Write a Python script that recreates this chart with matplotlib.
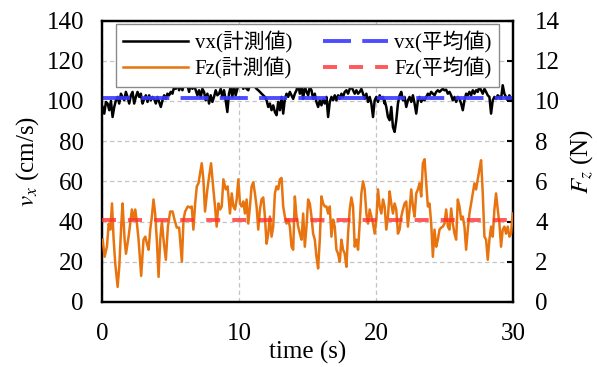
import numpy as np
import matplotlib
matplotlib.use("Agg")
import matplotlib.pyplot as plt
from matplotlib.font_manager import FontProperties

plt.rcParams['font.family'] = ['Liberation Serif', 'Noto Sans CJK JP', 'DejaVu Sans']
plt.rcParams['mathtext.fontset'] = 'stix'

# ---------------- data ----------------
DT = 0.1214  # sample spacing (s)

vx_seg1 = [97, 93.7, 99.5, 98.7, 95.4, 100, 92, 97, 100.3, 102, 98.7, 103.6, 102, 100.3, 104.5,
           102, 98.7, 102.8, 104.5, 98.7, 102, 104.5, 102, 103.6, 98.7, 101, 102.8, 99.5, 102.8,
           100.3, 102, 101, 98.7, 102, 99.5, 97, 100.3, 102.8, 101, 103.6, 102.8, 104.5, 103.6,
           107, 106, 108.6, 105.3, 107.8, 105.3, 108.6, 110.3, 107.8, 104.5, 108.6, 106, 107.8,
           105.3, 102.8, 105.3, 102, 106, 104.5, 100.3, 103.6, 98.7, 102.8, 99.5, 102, 105.3,
           102.8, 103.6, 106, 102, 105.3, 100.3, 94.5, 103.6, 107, 102, 107.8, 102.8, 106, 108.6]
vx_seg2 = [107.8, 108.6, 106, 107.8, 106, 105.3, 107.8, 108.3, 107.8, 107, 106, 105.3, 104.5,
           103.6, 102.8, 102, 100.3, 97, 98.7, 95.4, 97.8, 94.5, 92.9, 99.5, 95.4, 102, 93.7, 101,
           103.6, 102, 104.5, 102.8, 101, 103.6, 105.3, 108.6, 103.6, 107, 101, 107.3, 104.5,
           102.8, 107, 105.3, 101, 103.6, 99.5, 97, 100.3, 97.8, 101, 98.7, 102, 92, 99.5, 102,
           100.3, 102.8, 100.3, 102.8, 101, 103.6, 102, 104.5, 105.3, 103.6, 106, 107, 105.3,
           103.6, 105.3, 103.6, 104.5, 106, 103.6, 101, 103.6, 99.5, 102, 98.7, 92, 100.3, 102,
           99.5, 102.8, 101, 102, 98.7]
vx_seg3 = [100.3, 97, 92, 90.4, 97, 87, 84.6, 90.4, 98.7, 102.8, 104.5, 100.3, 102, 97, 100.3,
           102, 99.5, 102.8, 98.7, 93.7, 100.3, 102, 99.5, 101, 100.3, 102, 103.6, 102.8, 104.5,
           103.6, 102.8, 104.5, 105.3, 104.5, 105.3, 106, 105.3, 105.6, 103.6, 104.5, 102.8,
           100.3, 102, 99.5, 102, 101, 98.7, 95.4, 100.3, 103.6, 102.8, 104.5, 102.8, 105.3,
           103.6, 105.3, 104.5, 107, 105.3, 103.6, 106, 104.5, 102.8, 102, 93.7, 100.3, 102, 101,
           102.8, 102, 101, 107.8, 103.6, 102, 100.3, 102.8, 101]
vx_seg_start = [0.044, 10.07, 20.63]

fz_seg1_t = [0.05, 0.19, 0.36, 0.49, 0.61, 0.73, 0.85, 0.97, 1.14, 1.26, 1.41, 1.50, 1.65, 1.75,
             1.94, 2.06, 2.18, 2.31, 2.43, 2.55, 2.67, 2.86, 3.03, 3.16, 3.28, 3.40, 3.52, 3.64,
             3.76, 3.88, 4.00, 4.13, 4.25, 4.37, 4.49, 4.66, 4.81, 4.98, 5.15, 5.29, 5.46, 5.63,
             5.83, 5.95, 6.07, 6.26, 6.43, 6.55, 6.67, 6.80, 6.92, 7.04, 7.16, 7.28, 7.40, 7.52,
             7.69, 7.82, 7.96, 8.13, 8.25, 8.37, 8.50, 8.62, 8.74, 8.86, 9.03, 9.17, 9.34, 9.47,
             9.59, 9.71, 9.83, 9.95]
fz_seg1 = [3.1, 2.25, 2.75, 3.9, 3.6, 4.9, 3.1, 1.9, 0.75, 1.75, 3.9, 4.9, 3.1, 2.4, 3.25, 3.9,
           4.6, 4.1, 4.6, 3.9, 3.1, 1.3, 3.1, 3.25, 2.9, 2.6, 3.6, 4.25, 5.1, 4.4, 3.1, 1.25, 3.1,
           4.0, 3.1, 2.1, 3.75, 4.5, 4.5, 4.1, 3.7, 3.7, 2.0, 4.1, 4.5, 4.75, 4.7, 4.75, 3.6, 4.9,
           5.75, 5.9, 6.4, 6.9, 6.1, 4.5, 5.6, 6.25, 6.9, 5.6, 4.75, 3.75, 4.9, 4.6, 4.75, 6.1,
           5.6, 5.75, 4.4, 5.4, 4.75, 4.6, 5.1, 6.1]
fz_seg2 = [4.9, 4.75, 5.0, 4.4, 5.1, 3.9, 4.75, 5.75, 5.95, 5.4, 4.75, 3.6, 4.6, 5.1, 5.2, 4.25,
           2.9, 3.4, 4.25, 3.25, 3.75, 5.4, 5.75, 5.6, 6.1, 6.17, 4.75, 4.25, 3.9, 4.1, 3.75,
           2.75, 2.6, 5.25, 4.25, 3.75, 3.4, 3.1, 4.4, 2.75, 3.75, 5.1, 4.9, 4.25, 3.4, 3.1, 2.25,
           1.67, 3.1, 5.25, 4.9, 4.75, 4.75, 4.4, 4.75, 3.25, 4.1, 3.75, 2.6, 2.4, 2.0, 3.1, 2.6,
           2.4, 1.75, 3.4, 4.6, 5.2, 4.75, 2.75, 3.1, 2.6, 3.9, 5.4, 6.0, 5.6, 4.4, 3.9, 4.6,
           4.25, 3.9, 3.4, 4.1, 5.6, 4.75, 4.4, 5.1]
fz_seg3 = [4.75, 3.6, 4.25, 5.5, 4.9, 4.4, 4.9, 4.6, 3.4, 3.6, 4.25, 4.6, 4.9, 5.0, 3.75, 4.6,
           5.6, 4.75, 4.25, 5.4, 5.6, 5.9, 5.25, 6.9, 7.1, 5.9, 4.75, 4.9, 3.9, 2.25, 3.6, 2.75,
           3.1, 3.6, 3.7, 3.75, 3.9, 4.6, 3.75, 3.6, 4.65, 3.9, 3.4, 3.1, 5.1, 4.75, 4.1, 4.25,
           3.75, 2.6, 3.6, 4.4, 4.9, 5.4, 5.9, 5.6, 6.1, 6.6, 7.05, 5.4, 3.25, 3.1, 2.1, 3.1,
           3.75, 3.25, 4.6, 5.4, 4.6, 3.9, 2.75, 3.6, 3.75, 3.4, 3.75, 3.25, 3.4, 4.4]
fz_seg_start = [10.07, 20.63]

vx_mean = 101.7   # cm/s
fz_mean = 4.08    # N

labels = ['vx(計測値)', 'Fz(計測値)', 'vx(平均値)', 'Fz(平均値)']
x_ticks = [0, 10, 20, 30]
vx_ticks = [0, 20, 40, 60, 80, 100, 120, 140]
fz_ticks = [0, 2, 4, 6, 8, 10, 12, 14]

# ---------------- assemble series ----------------
vx_t = np.concatenate([s + DT * np.arange(len(v)) for s, v in
                       zip(vx_seg_start, [vx_seg1, vx_seg2, vx_seg3])])
vx = np.concatenate([vx_seg1, vx_seg2, vx_seg3])
fz_t = np.concatenate([fz_seg1_t] + [s + DT * np.arange(len(v)) for s, v in
                                     zip(fz_seg_start, [fz_seg2, fz_seg3])])
fz = np.concatenate([fz_seg1, fz_seg2, fz_seg3])

# ---------------- figure ----------------
FS = 18
fig = plt.figure(figsize=(5.97, 3.67), dpi=100)
ax = fig.add_axes([102 / 597, 1 - 302 / 367, 411 / 597, 281.5 / 367])
ax2 = ax.twinx()

l1, = ax.plot(vx_t, vx, color='black', lw=1.8, zorder=3, solid_joinstyle='round')
l3, = ax.plot([0, 30], [vx_mean, vx_mean], color='#3a3aff', lw=2.8, alpha=0.9,
              dashes=(7.2, 2.9), zorder=4)
l2, = ax2.plot(fz_t, fz, color='#e8740f', lw=1.8, zorder=3, solid_joinstyle='round')
l4, = ax2.plot([0, 30], [fz_mean, fz_mean], color='#ff3030', lw=2.8, alpha=0.8,
               dashes=(3.6, 3.1), zorder=4)

ax.set_xlim(0, 30)
ax.set_ylim(0, 140)
ax2.set_ylim(0, 14)
ax.set_xticks(x_ticks)
ax.set_yticks(vx_ticks)
ax2.set_yticks(fz_ticks)

ax.grid(True, color='#c4c4c4', lw=0.9, linestyle=(0, (3.5, 2.5)))
ax.set_axisbelow(True)

for a in (ax, ax2):
    for sp in a.spines.values():
        sp.set_linewidth(1.6)
        sp.set_color('black')

ax.tick_params(axis='y', length=0, pad=13, labelsize=FS)
ax.tick_params(axis='x', length=0, pad=15, labelsize=FS)
ax2.tick_params(axis='y', direction='in', length=4, width=1.5, pad=16, labelsize=FS)

ax.set_xlabel('time (s)', fontsize=FS, labelpad=-3)
ax.set_ylabel('$v_x$ (cm/s)', fontsize=FS, labelpad=4)
ax2.set_ylabel('$F_z$ (N)', fontsize=FS, labelpad=6)

leg = ax2.legend([l1, l2, l3, l4], labels, ncol=2, loc='upper left',
                 bbox_to_anchor=(14 / 411, 1 - 3.5 / 281.5), borderaxespad=0,
                 prop=FontProperties(family=['Liberation Serif', 'Noto Sans CJK JP'], size=15),
                 handlelength=3.1, handletextpad=0.32, columnspacing=1.5,
                 labelspacing=0.2, borderpad=0.35, fancybox=False, framealpha=1,
                 edgecolor='#8a8a8a')
leg.get_frame().set_linewidth(1.0)
leg.set_zorder(10)

fig.savefig('out.png', dpi=100)
